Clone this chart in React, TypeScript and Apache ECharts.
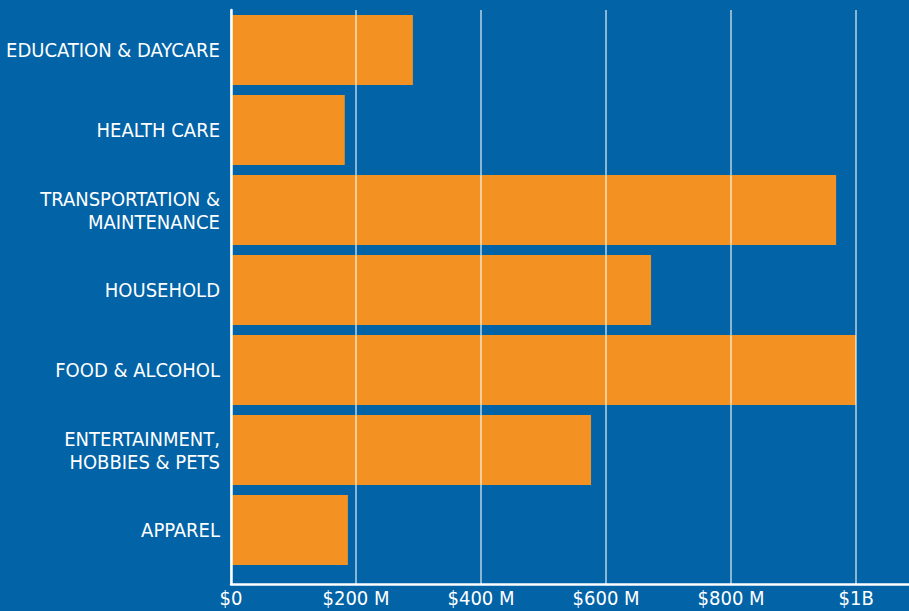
import React, { useEffect, useRef } from "react";
import * as echarts from "echarts";

const categories = [
  "EDUCATION & DAYCARE",
  "HEALTH CARE",
  "TRANSPORTATION &\nMAINTENANCE",
  "HOUSEHOLD",
  "FOOD & ALCOHOL",
  "ENTERTAINMENT,\nHOBBIES & PETS",
  "APPAREL",
];
// spending in millions of dollars
const spending = [291, 182, 968, 672, 1000, 576, 187];
const tickValues = [0, 200, 400, 600, 800, 1000];
const tickLabels = ["$0", "$200 M", "$400 M", "$600 M", "$800 M", "$1B"];

const FONT = '"Liberation Sans Narrow", "DejaVu Sans Condensed", "Roboto Condensed", Arial, sans-serif';
const BG = "#0263A7";
const ORANGE = "#F39222";
const X_MAX = 1091;

export default function App() {
  const ref = useRef<HTMLDivElement>(null);
  useEffect(() => {
    document.body.style.margin = "0";
    const chart = echarts.init(ref.current!, null, { renderer: "svg" });
    chart.setOption({
      animation: false,
      backgroundColor: BG,
      grid: [
        { left: 231, right: -4, top: 10, height: 560, outerBoundsMode: "none", containLabel: false },
        { left: 231, right: -4, top: 10, height: 574, outerBoundsMode: "none", containLabel: false },
      ],
      xAxis: [
        {
          gridIndex: 0,
          type: "value",
          min: 0,
          max: X_MAX,
          show: false,
        },
        {
          gridIndex: 1,
          type: "value",
          min: 0,
          max: X_MAX,
          interval: 200,
          z: 5,
          axisLine: { show: true, lineStyle: { color: "#FFFFFF", width: 2.5 } },
          axisTick: { show: false },
          splitLine: {
            show: true,
            lineStyle: { color: "rgba(255,255,255,0.72)", width: 1.5 },
          },
          axisLabel: {
            color: "#FFFFFF",
            fontFamily: FONT,
            fontSize: 20,
            lineHeight: 20,
            margin: 4,
            showMaxLabel: false,
            hideOverlap: false,
            formatter: (v: number) => {
              const i = tickValues.indexOf(v);
              return i >= 0 ? tickLabels[i] : "";
            },
          },
        },
      ],
      yAxis: [
        {
          gridIndex: 0,
          type: "category",
          data: categories,
          inverse: true,
          axisLine: { show: false },
          axisTick: { show: false },
          axisLabel: {
            color: "#FFFFFF",
            fontFamily: FONT,
            fontSize: 20,
            lineHeight: 23,
            margin: 11,
            align: "right",
            hideOverlap: false,
          },
        },
        {
          gridIndex: 1,
          type: "value",
          min: 0,
          max: 1,
          z: 6,
          axisLine: { show: true, lineStyle: { color: "#FFFFFF", width: 2.5 } },
          axisTick: { show: false },
          axisLabel: { show: false },
          splitLine: { show: false },
        },
      ],
      series: [
        {
          type: "bar",
          xAxisIndex: 0,
          yAxisIndex: 0,
          data: spending,
          barWidth: 70,
          z: 2,
          itemStyle: { color: ORANGE },
        },
      ],
    });
    return () => chart.dispose();
  }, []);
  return <div ref={ref} style={{ width: 909, height: 611 }} />;
}
